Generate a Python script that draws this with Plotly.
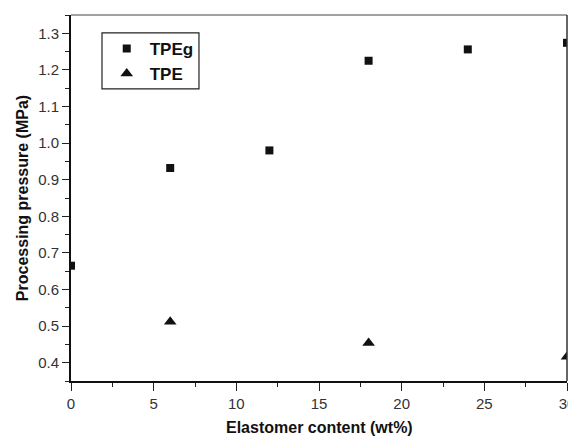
import plotly.graph_objects as go

tpeg_x = [0, 6, 12, 18, 24, 30]
tpeg_y = [0.665, 0.932, 0.98, 1.225, 1.256, 1.274]
tpe_x = [6, 18, 30]
tpe_y = [0.512, 0.454, 0.416]

fig = go.Figure()
fig.add_trace(go.Scatter(x=tpeg_x, y=tpeg_y, mode="markers", name="<b>TPEg</b>",
                         marker=dict(symbol="square", size=8, color="#111")))
fig.add_trace(go.Scatter(x=tpe_x, y=tpe_y, mode="markers", name="<b>TPE</b>",
                         marker=dict(symbol="triangle-up", size=11, color="#111")))

font = "Liberation Sans, Arial, sans-serif"
# page body has an 8px default margin, so the figure is offset by (8, 8)
fig.update_layout(
    width=568, height=429,
    margin=dict(l=63, r=9, t=7, b=56),
    paper_bgcolor="white", plot_bgcolor="white",
    showlegend=True,
    legend=dict(x=0.066, y=0.9565, xanchor="left", yanchor="top",
                borderwidth=0, bgcolor="rgba(0,0,0,0)",
                font=dict(family=font, size=17, color="#111"),
                itemwidth=36, tracegroupgap=0),
    font=dict(family=font, color="#222"),
)
fig.update_xaxes(range=[0, 30], tickmode="array", tickvals=[0, 5, 10, 15, 20, 25, 30],
                 ticks="outside", ticklen=8, tickwidth=1.2, tickcolor="#222",
                 minor=dict(dtick=2.5, ticks="outside", ticklen=4, tickcolor="#222"),
                 showline=True, linecolor="#111", linewidth=2, showgrid=False, zeroline=False,
                 automargin=False,
                 tickfont=dict(size=15, family=font, color="#333"))
fig.update_yaxes(range=[0.35, 1.35], tickmode="array",
                 tickvals=[0.4, 0.5, 0.6, 0.7, 0.8, 0.9, 1.0, 1.1, 1.2, 1.3],
                 ticktext=["0.4", "0.5", "0.6", "0.7", "0.8", "0.9", "1.0", "1.1", "1.2", "1.3"],
                 ticks="outside", ticklen=7, tickwidth=1.2, tickcolor="#222",
                 minor=dict(dtick=0.05, tick0=0.35, ticks="outside", ticklen=4, tickcolor="#222"),
                 showline=True, linecolor="#111", linewidth=2, showgrid=False, zeroline=False,
                 automargin=False,
                 tickfont=dict(size=15, family=font, color="#333"),
                 title=dict(text="<b>Processing pressure (MPa)</b>", standoff=6,
                            font=dict(size=16, family=font, color="#111")))
fig.add_annotation(text="<b>Elastomer content (wt%)</b>", xref="paper", yref="paper",
                   x=0.5, y=0, xanchor="center", yanchor="top", yshift=-36, showarrow=False,
                   font=dict(size=16, family=font, color="#111"))
# frame lines and legend box
fig.add_shape(type="line", xref="paper", yref="paper", x0=0, x1=1, y0=1, y1=1,
              line=dict(color="#444", width=1.2))
fig.add_shape(type="line", xref="paper", yref="paper", x0=1, x1=1, y0=0, y1=1,
              line=dict(color="#333", width=1.5))
fig.add_shape(type="rect", xref="paper", yref="paper", x0=0.0625, x1=0.258, y0=0.798, y1=0.951,
              line=dict(color="#222", width=1.2), fillcolor="white", layer="below")
fig.write_html("out.html")
